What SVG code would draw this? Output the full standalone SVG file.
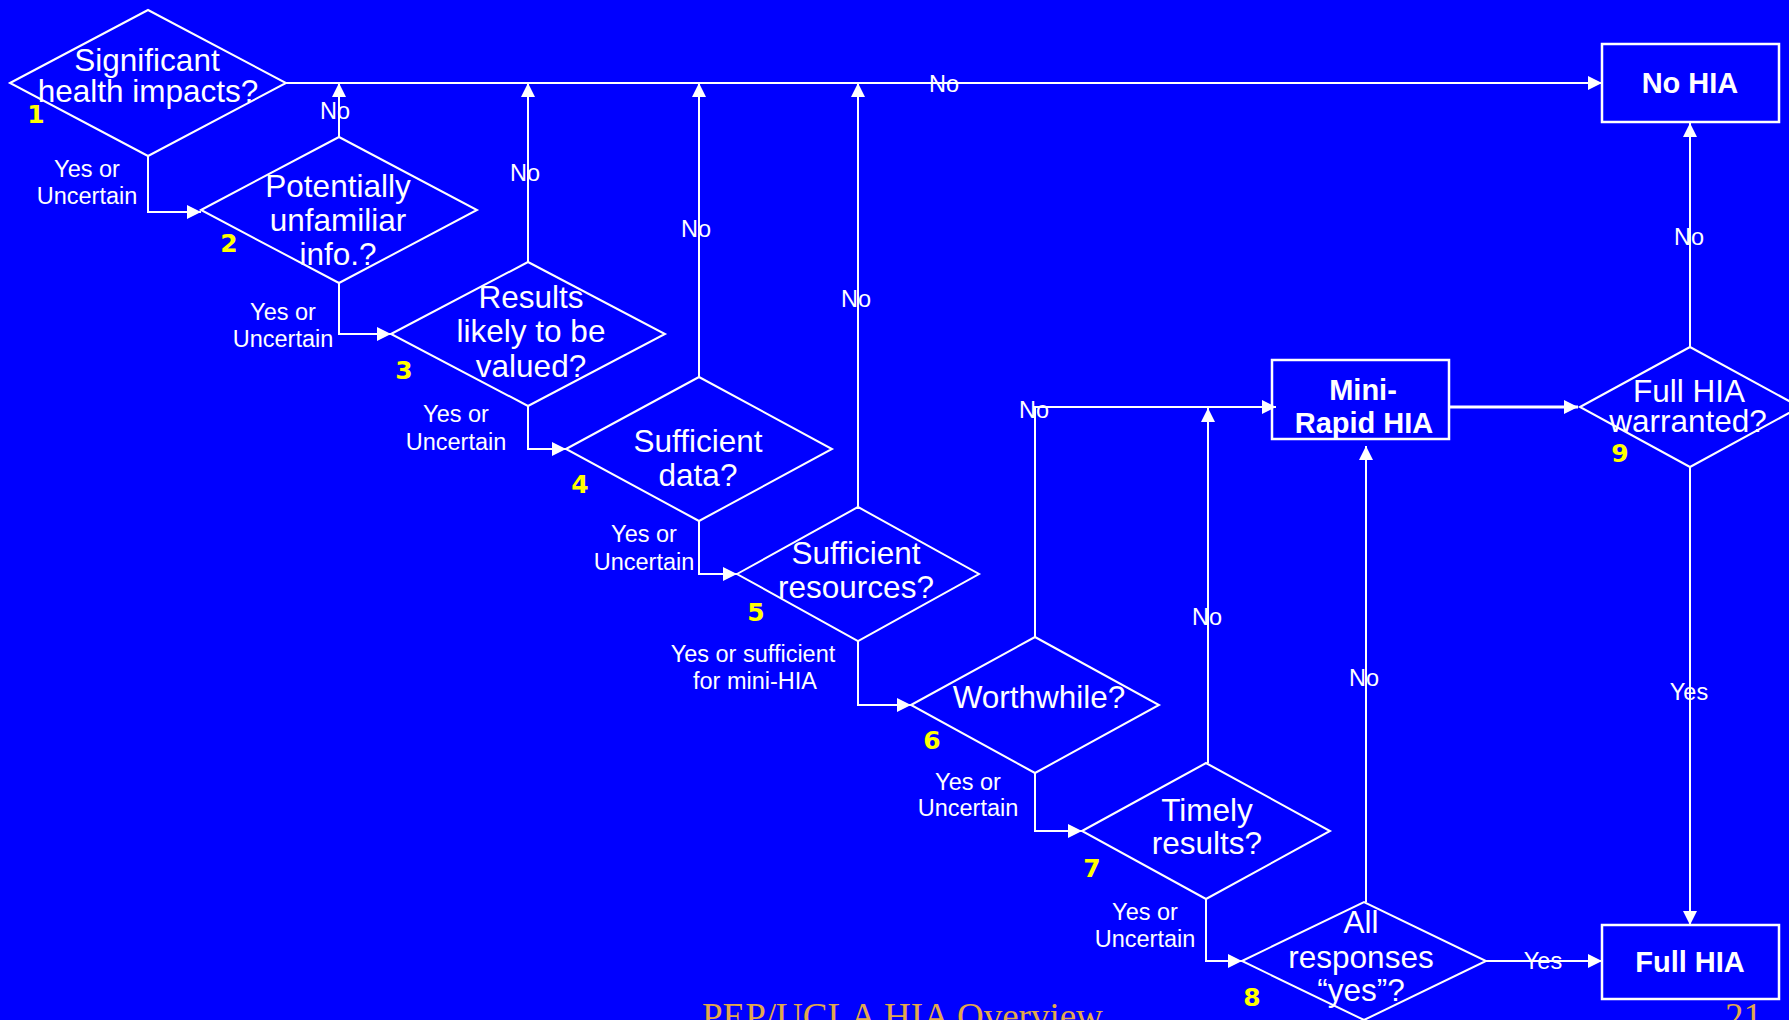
<svg xmlns="http://www.w3.org/2000/svg" width="1789" height="1020" viewBox="0 0 1789 1020">
<defs>
<marker id="ah" markerUnits="userSpaceOnUse" markerWidth="14" markerHeight="14" refX="14" refY="7" orient="auto">
<path d="M0,0 L14,7 L0,14 z" fill="#ffffff"/>
</marker>
<style>
.shape{fill:none;stroke:#ffffff;stroke-width:2}
.box{fill:none;stroke:#ffffff;stroke-width:2.5}
.conn{fill:none;stroke:#ffffff;stroke-width:2}
.q{font-family:"Liberation Sans",Arial,sans-serif;font-size:31.5px;fill:#ffffff;text-anchor:middle}
.b{font-family:"Liberation Sans",Arial,sans-serif;font-size:29px;font-weight:bold;fill:#ffffff;text-anchor:middle}
.lbl{font-family:"Liberation Sans",Arial,sans-serif;font-size:23.5px;fill:#ffffff;text-anchor:middle}
.num{font-family:"DejaVu Sans",Verdana,sans-serif;font-size:25px;font-weight:bold;fill:#ffff00;text-anchor:middle}
.foot{font-family:"Liberation Serif","Times New Roman",serif;font-size:37px;fill:#e2a84c}
</style>
</defs>
<rect x="0" y="0" width="1789" height="1020" fill="#0000ff"/>

<g id="connectors">
<path class="conn" d="M286,83 H1602" marker-end="url(#ah)"/>
<path class="conn" d="M339,137 V83" marker-end="url(#ah)"/>
<path class="conn" d="M528,262 V83" marker-end="url(#ah)"/>
<path class="conn" d="M699,377 V83" marker-end="url(#ah)"/>
<path class="conn" d="M858,507 V83" marker-end="url(#ah)"/>
<path class="conn" d="M148,156 V212 H201" marker-end="url(#ah)"/>
<path class="conn" d="M339,283 V334 H391" marker-end="url(#ah)"/>
<path class="conn" d="M528,406 V449 H566" marker-end="url(#ah)"/>
<path class="conn" d="M699,521 V574 H737" marker-end="url(#ah)"/>
<path class="conn" d="M858,641 V705 H911" marker-end="url(#ah)"/>
<path class="conn" d="M1035,773 V831 H1082" marker-end="url(#ah)"/>
<path class="conn" d="M1206,899 V961 H1242" marker-end="url(#ah)"/>
<path class="conn" d="M1035,637 V407 H1276" marker-end="url(#ah)"/>
<path class="conn" d="M1208,763 V408" marker-end="url(#ah)"/>
<path class="conn" d="M1366,902 V446" marker-end="url(#ah)"/>
<path class="conn" d="M1449,407 H1578" style="stroke-width:3" marker-end="url(#ah)"/>
<path class="conn" d="M1690,347 V123" marker-end="url(#ah)"/>
<path class="conn" d="M1690,467 V925" marker-end="url(#ah)"/>
<path class="conn" d="M1486,961 H1602" marker-end="url(#ah)"/>
<text class="lbl" x="944" y="92">No</text>
<text class="lbl" x="335" y="119">No</text>
<text class="lbl" x="525" y="181">No</text>
<text class="lbl" x="696" y="237">No</text>
<text class="lbl" x="856" y="307">No</text>
<text class="lbl" x="1034" y="418">No</text>
<text class="lbl" x="1207" y="625">No</text>
<text class="lbl" x="1364" y="686">No</text>
<text class="lbl" x="1689" y="245">No</text>
<text class="lbl" x="1689" y="700">Yes</text>
<text class="lbl" x="1543" y="969">Yes</text>
<text class="lbl" x="87" y="177">Yes or</text>
<text class="lbl" x="87" y="204">Uncertain</text>
<text class="lbl" x="283" y="320">Yes or</text>
<text class="lbl" x="283" y="347">Uncertain</text>
<text class="lbl" x="456" y="422">Yes or</text>
<text class="lbl" x="456" y="450">Uncertain</text>
<text class="lbl" x="644" y="542">Yes or</text>
<text class="lbl" x="644" y="570">Uncertain</text>
<text class="lbl" x="753" y="662">Yes or sufficient</text>
<text class="lbl" x="755" y="689">for mini-HIA</text>
<text class="lbl" x="968" y="790">Yes or</text>
<text class="lbl" x="968" y="816">Uncertain</text>
<text class="lbl" x="1145" y="920">Yes or</text>
<text class="lbl" x="1145" y="947">Uncertain</text>
</g>

<g id="node1">
<polygon class="shape" points="10,83 148,10 286,83 148,156"/>
<text class="q" x="147" y="71">Significant</text>
<text class="q" x="148" y="102">health impacts?</text>
<text class="num" x="36" y="123">1</text>
</g>
<g id="node2">
<polygon class="shape" points="201,210 339,137 477,210 339,283"/>
<text class="q" x="338" y="197">Potentially</text>
<text class="q" x="338" y="231">unfamiliar</text>
<text class="q" x="338" y="265">info.?</text>
<text class="num" x="229" y="252">2</text>
</g>
<g id="node3">
<polygon class="shape" points="391,334 528,262 665,334 528,406"/>
<text class="q" x="531" y="308">Results</text>
<text class="q" x="531" y="342">likely to be</text>
<text class="q" x="531" y="377">valued?</text>
<text class="num" x="404" y="379">3</text>
</g>
<g id="node4">
<polygon class="shape" points="566,449 699,377 832,449 699,521"/>
<text class="q" x="698" y="452">Sufficient</text>
<text class="q" x="698" y="486">data?</text>
<text class="num" x="580" y="493">4</text>
</g>
<g id="node5">
<polygon class="shape" points="737,574 858,507 979,574 858,641"/>
<text class="q" x="856" y="564">Sufficient</text>
<text class="q" x="856" y="598">resources?</text>
<text class="num" x="756" y="621">5</text>
</g>
<g id="node6">
<polygon class="shape" points="911,705 1035,637 1159,705 1035,773"/>
<text class="q" x="1039" y="708">Worthwhile?</text>
<text class="num" x="932" y="749">6</text>
</g>
<g id="node7">
<polygon class="shape" points="1082,831 1206,763 1330,831 1206,899"/>
<text class="q" x="1207" y="821">Timely</text>
<text class="q" x="1207" y="854">results?</text>
<text class="num" x="1092" y="877">7</text>
</g>
<g id="node8">
<polygon class="shape" points="1242,961 1364,902 1486,961 1364,1020"/>
<text class="q" x="1361" y="933">All</text>
<text class="q" x="1361" y="968">responses</text>
<text class="q" x="1361" y="1001">“yes”?</text>
<text class="num" x="1252" y="1006">8</text>
</g>
<g id="node9">
<polygon class="shape" points="1580,407 1690,347 1800,407 1690,467"/>
<text class="q" x="1689" y="402">Full HIA</text>
<text class="q" x="1688" y="432">warranted?</text>
<text class="num" x="1620" y="462">9</text>
</g>
<g id="noHIA">
<rect class="box" x="1602" y="44" width="177" height="78"/>
<text class="b" x="1690" y="93">No HIA</text>
</g>
<g id="miniHIA">
<rect class="box" x="1272" y="360" width="177" height="79"/>
<text class="b" x="1363" y="400">Mini-</text>
<text class="b" x="1364" y="433">Rapid HIA</text>
</g>
<g id="fullHIA">
<rect class="box" x="1602" y="925" width="177" height="74"/>
<text class="b" x="1690" y="972">Full HIA</text>
</g>
<g id="footer">
<text class="foot" x="702" y="1029">PEP/UCLA HIA Overview</text>
<text class="foot" x="1762" y="1029" text-anchor="end">21</text>
</g>
</svg>
